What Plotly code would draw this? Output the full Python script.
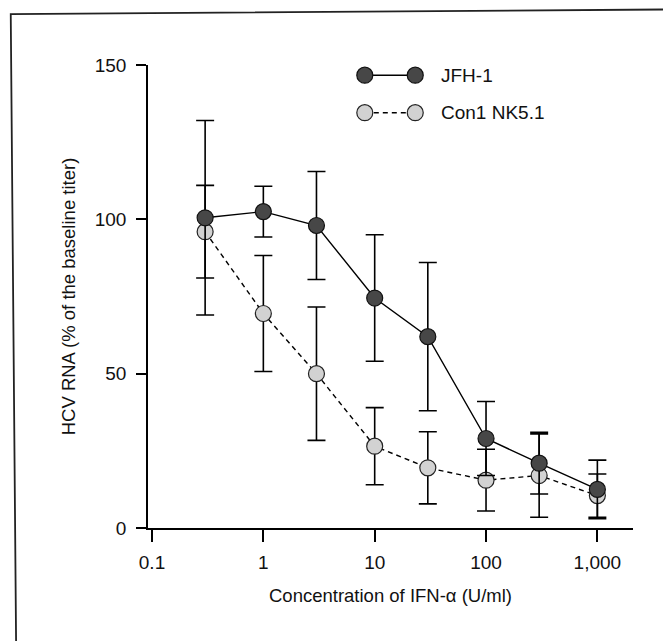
import plotly.graph_objects as go

# ---- data ----
conc = [0.3, 1, 3, 10, 30, 100, 300, 1000]
jfh_mean = [100.5, 102.5, 98.0, 74.5, 62.0, 29.0, 21.0, 12.5]
jfh_err = [31.5, 8.2, 17.5, 20.5, 24.0, 12.0, 10.0, 9.5]
con1_mean = [96.0, 69.5, 50.0, 26.5, 19.5, 15.5, 17.0, 10.5]
con1_err = [15.0, 18.8, 21.6, 12.5, 11.7, 10.0, 13.5, 7.0]
series_names = ["JFH-1", "Con1 NK5.1"]
x_tickvals = [0.1, 1, 10, 100, 1000]
x_ticktext = ["0.1", "1", "10", "100", "1,000"]
y_tickvals = [0, 50, 100, 150]

FONT = "Liberation Sans, Arial, Helvetica, sans-serif"
JFH_FILL = "#474747"
CON_FILL = "#d2d2d2"
TXT = "#111"

fig = go.Figure()

fig.add_trace(go.Scatter(
    x=conc, y=con1_mean, mode="lines+markers", name=series_names[1],
    line=dict(color="black", width=1.4, dash="5px,4px"),
    marker=dict(size=16, color=CON_FILL, line=dict(color="#222", width=1.2)),
    error_y=dict(type="data", array=con1_err, visible=True, color="black",
                 thickness=1.6, width=9),
    showlegend=False,
))
fig.add_trace(go.Scatter(
    x=conc, y=jfh_mean, mode="lines+markers", name=series_names[0],
    line=dict(color="black", width=1.4),
    marker=dict(size=16, color=JFH_FILL, line=dict(color="#111", width=1.2)),
    error_y=dict(type="data", array=jfh_err, visible=True, color="black",
                 thickness=1.6, width=9),
    showlegend=False,
))

# ---- hand-drawn legend (overlay axis spanning the plot area) ----
leg_x = [0.447, 0.551]
leg_y = [0.978, 0.897]
styles = [
    dict(line=dict(color="black", width=1.4),
         marker=dict(size=16, color=JFH_FILL, line=dict(color="#111", width=1.2))),
    dict(line=dict(color="black", width=1.4, dash="5px,4px"),
         marker=dict(size=16, color=CON_FILL, line=dict(color="#222", width=1.2))),
]
for name, yy, st in zip(series_names, leg_y, styles):
    fig.add_trace(go.Scatter(
        x=leg_x, y=[yy, yy], mode="lines+markers", xaxis="x2", yaxis="y2",
        showlegend=False, hoverinfo="skip", **st))
    fig.add_annotation(x=0.600, y=yy, xref="x2", yref="y2", text=name,
                       showarrow=False, xanchor="left", yanchor="middle",
                       font=dict(family=FONT, size=19, color=TXT))

axis_common = dict(
    showline=True, linecolor="black", linewidth=1.5,
    ticks="outside", tickwidth=1.5, tickcolor="black",
    showgrid=False, zeroline=False,
    tickfont=dict(family=FONT, size=19, color=TXT),
)

fig.update_layout(
    width=671, height=641,
    margin=dict(l=140, r=46, t=57, b=121),
    paper_bgcolor="white", plot_bgcolor="white",
    font=dict(family=FONT, size=18, color=TXT),
    xaxis=dict(
        type="log", range=[-1.036, 3.32],
        tickvals=x_tickvals, ticktext=x_ticktext, ticklen=12,
        ticklabelstandoff=4,
        title=dict(text="Concentration of IFN-α (U/ml)", standoff=18,
                   font=dict(family=FONT, size=18.5, color=TXT)),
        **axis_common,
    ),
    yaxis=dict(
        range=[0, 150], tickvals=y_tickvals, ticklen=10,
        ticklabelstandoff=6,
        title=dict(text="HCV RNA (% of the baseline titer)", standoff=14,
                   font=dict(family=FONT, size=18.5, color=TXT)),
        **axis_common,
    ),
    xaxis2=dict(range=[0, 1], overlaying="x", visible=False, fixedrange=True),
    yaxis2=dict(range=[0, 1], overlaying="y", visible=False, fixedrange=True),
    shapes=[
        dict(type="path", xref="paper", yref="paper",
             path="M -0.272,-0.244 L -0.283,1.11 L 1.08,1.12",
             line=dict(color="#222", width=1.8)),
    ],
)

fig.write_html("out.html")
